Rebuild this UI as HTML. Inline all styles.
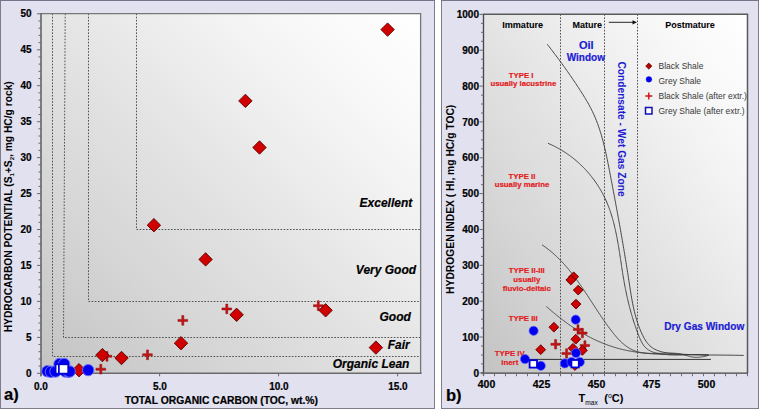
<!DOCTYPE html><html><head><meta charset="utf-8"><style>
html,body{margin:0;padding:0;background:#fff;width:759px;height:409px;overflow:hidden}
svg{display:block}
text{font-family:"Liberation Sans", sans-serif}
</style></head><body>
<svg width="759" height="409" viewBox="0 0 759 409">
<defs>
<linearGradient id="gL" x1="0" y1="1" x2="1" y2="0">
<stop offset="0" stop-color="#c3c3c3"/><stop offset="0.25" stop-color="#d5d5d5"/><stop offset="0.5" stop-color="#e4e4e4"/><stop offset="0.65" stop-color="#eeeeee"/><stop offset="0.8" stop-color="#f7f7f7"/><stop offset="1" stop-color="#ffffff"/></linearGradient>
<linearGradient id="gR" x1="0" y1="1" x2="1" y2="0">
<stop offset="0" stop-color="#c3c3c3"/><stop offset="0.25" stop-color="#d5d5d5"/><stop offset="0.5" stop-color="#e4e4e4"/><stop offset="0.65" stop-color="#eeeeee"/><stop offset="0.8" stop-color="#f7f7f7"/><stop offset="1" stop-color="#ffffff"/></linearGradient>
</defs>

<rect x="0" y="0" width="435" height="409" fill="#e1e1ef"/>
<rect x="441" y="0" width="318" height="409" fill="#e1e1ef"/>
<rect x="0.5" y="0.5" width="434" height="408" fill="none" stroke="#7c7c8a" stroke-width="1"/>
<line x1="0" y1="0.5" x2="435" y2="0.5" stroke="#74748a" stroke-width="1"/>
<rect x="441.5" y="0.5" width="317" height="408" fill="none" stroke="#7c7c8a" stroke-width="1"/>
<line x1="441" y1="0.5" x2="759" y2="0.5" stroke="#74748a" stroke-width="1"/>
<rect x="41" y="13.6" width="379.6" height="359.7" fill="url(#gL)"/>
<path d="M52.5,13.6V356.5H420.6" stroke="#505050" stroke-width="1" stroke-dasharray="1.6,1.53" fill="none"/>
<path d="M65.2,13.6L63.5,337.5H420.6" stroke="#505050" stroke-width="1" stroke-dasharray="1.6,1.53" fill="none"/>
<path d="M88.5,13.6V301.5H420.6" stroke="#505050" stroke-width="1" stroke-dasharray="1.6,1.53" fill="none"/>
<path d="M136.5,13.6V229.5H420.6" stroke="#505050" stroke-width="1" stroke-dasharray="1.6,1.53" fill="none"/>
<path d="M41,13.6H420.6V373.3" stroke="#777" stroke-width="1.3" fill="none"/>
<line x1="41" y1="13.1" x2="41" y2="376.3" stroke="#6c6c6c" stroke-width="1.7"/>
<line x1="40" y1="373.3" x2="421.6" y2="373.3" stroke="#6a6a6a" stroke-width="1.6"/>
<path d="M37.0,373.3H41M38.5,366.1H41M38.5,358.9H41M38.5,351.7H41M38.5,344.5H41M37.0,337.4H41M38.5,330.2H41M38.5,323.0H41M38.5,315.8H41M38.5,308.6H41M37.0,301.4H41M38.5,294.2H41M38.5,287.0H41M38.5,279.8H41M38.5,272.6H41M37.0,265.4H41M38.5,258.3H41M38.5,251.1H41M38.5,243.9H41M38.5,236.7H41M37.0,229.5H41M38.5,222.3H41M38.5,215.1H41M38.5,207.9H41M38.5,200.7H41M37.0,193.6H41M38.5,186.4H41M38.5,179.2H41M38.5,172.0H41M38.5,164.8H41M37.0,157.6H41M38.5,150.4H41M38.5,143.2H41M38.5,136.0H41M38.5,128.8H41M37.0,121.7H41M38.5,114.5H41M38.5,107.3H41M38.5,100.1H41M38.5,92.9H41M37.0,85.7H41M38.5,78.5H41M38.5,71.3H41M38.5,64.1H41M38.5,56.9H41M37.0,49.8H41M38.5,42.6H41M38.5,35.4H41M38.5,28.2H41M38.5,21.0H41M37.0,13.8H41M40.6,373.3V376.3M159.6,373.3V376.3M278.6,373.3V376.3M397.6,373.3V376.3" stroke="#6a6a6a" stroke-width="1"/>
<text x="31.5" y="376.9" font-size="10" font-weight="bold" font-style="normal" text-anchor="end" fill="#000" stroke="#000" stroke-width="0.2" >0</text>
<text x="31.5" y="341.0" font-size="10" font-weight="bold" font-style="normal" text-anchor="end" fill="#000" stroke="#000" stroke-width="0.2" >5</text>
<text x="31.5" y="305.0" font-size="10" font-weight="bold" font-style="normal" text-anchor="end" fill="#000" stroke="#000" stroke-width="0.2" >10</text>
<text x="31.5" y="269.1" font-size="10" font-weight="bold" font-style="normal" text-anchor="end" fill="#000" stroke="#000" stroke-width="0.2" >15</text>
<text x="31.5" y="233.1" font-size="10" font-weight="bold" font-style="normal" text-anchor="end" fill="#000" stroke="#000" stroke-width="0.2" >20</text>
<text x="31.5" y="197.2" font-size="10" font-weight="bold" font-style="normal" text-anchor="end" fill="#000" stroke="#000" stroke-width="0.2" >25</text>
<text x="31.5" y="161.2" font-size="10" font-weight="bold" font-style="normal" text-anchor="end" fill="#000" stroke="#000" stroke-width="0.2" >30</text>
<text x="31.5" y="125.2" font-size="10" font-weight="bold" font-style="normal" text-anchor="end" fill="#000" stroke="#000" stroke-width="0.2" >35</text>
<text x="31.5" y="89.3" font-size="10" font-weight="bold" font-style="normal" text-anchor="end" fill="#000" stroke="#000" stroke-width="0.2" >40</text>
<text x="31.5" y="53.4" font-size="10" font-weight="bold" font-style="normal" text-anchor="end" fill="#000" stroke="#000" stroke-width="0.2" >45</text>
<text x="31.5" y="17.4" font-size="10" font-weight="bold" font-style="normal" text-anchor="end" fill="#000" stroke="#000" stroke-width="0.2" >50</text>
<text x="40.9" y="389.8" font-size="10" font-weight="bold" font-style="normal" text-anchor="middle" fill="#000" stroke="#000" stroke-width="0.2" >0.0</text>
<text x="159.9" y="389.8" font-size="10" font-weight="bold" font-style="normal" text-anchor="middle" fill="#000" stroke="#000" stroke-width="0.2" >5.0</text>
<text x="278.9" y="389.8" font-size="10" font-weight="bold" font-style="normal" text-anchor="middle" fill="#000" stroke="#000" stroke-width="0.2" >10.0</text>
<text x="397.9" y="389.8" font-size="10" font-weight="bold" font-style="normal" text-anchor="middle" fill="#000" stroke="#000" stroke-width="0.2" >15.0</text>
<text x="221.3" y="404.0" font-size="10.3" font-weight="bold" font-style="normal" text-anchor="middle" fill="#000" stroke="#000" stroke-width="0.2" >TOTAL ORGANIC CARBON (TOC, wt.%)</text>
<text transform="translate(12.3,206.8) rotate(-90)" x="0" y="0" font-size="10.25" font-weight="bold" text-anchor="middle">HYDROCARBON POTENTIAL (S<tspan font-size="6" dy="1.8">1</tspan><tspan dy="-1.8">+S</tspan><tspan font-size="6" dy="1.8">2</tspan><tspan dy="-1.8">, mg HC/g rock)</tspan></text>
<text x="4.0" y="400.4" font-size="16.5" font-weight="bold" font-style="normal" text-anchor="start" fill="#000" stroke="#000" stroke-width="0.2" >a)</text>
<text x="412.3" y="206.9" font-size="12" font-weight="bold" font-style="italic" text-anchor="end" fill="#000" stroke="#000" stroke-width="0.2" >Excellent</text>
<text x="416.1" y="274.0" font-size="12" font-weight="bold" font-style="italic" text-anchor="end" fill="#000" stroke="#000" stroke-width="0.2" >Very Good</text>
<text x="410.8" y="320.8" font-size="12" font-weight="bold" font-style="italic" text-anchor="end" fill="#000" stroke="#000" stroke-width="0.2" >Good</text>
<text x="409.7" y="349.0" font-size="12" font-weight="bold" font-style="italic" text-anchor="end" fill="#000" stroke="#000" stroke-width="0.2" >Fair</text>
<text x="409.4" y="367.7" font-size="12" font-weight="bold" font-style="italic" text-anchor="end" fill="#000" stroke="#000" stroke-width="0.2" >Organic Lean</text>
<path d="M225.80,304.05L227.80,304.05L227.80,307.90L231.65,307.90L231.65,309.90L227.80,309.90L227.80,313.75L225.80,313.75L225.80,309.90L221.95,309.90L221.95,307.90L225.80,307.90Z" fill="#c81212" stroke="#8a0808" stroke-width="0.5"/>
<path d="M317.30,300.85L319.30,300.85L319.30,304.70L323.15,304.70L323.15,306.70L319.30,306.70L319.30,310.55L317.30,310.55L317.30,306.70L313.45,306.70L313.45,304.70L317.30,304.70Z" fill="#c81212" stroke="#8a0808" stroke-width="0.5"/>
<path d="M181.80,315.55L183.80,315.55L183.80,319.40L187.65,319.40L187.65,321.40L183.80,321.40L183.80,325.25L181.80,325.25L181.80,321.40L177.95,321.40L177.95,319.40L181.80,319.40Z" fill="#c81212" stroke="#8a0808" stroke-width="0.5"/>
<path d="M146.50,349.95L148.50,349.95L148.50,353.80L152.35,353.80L152.35,355.80L148.50,355.80L148.50,359.65L146.50,359.65L146.50,355.80L142.65,355.80L142.65,353.80L146.50,353.80Z" fill="#c81212" stroke="#8a0808" stroke-width="0.5"/>
<path d="M106.00,351.45L108.00,351.45L108.00,355.30L111.85,355.30L111.85,357.30L108.00,357.30L108.00,361.15L106.00,361.15L106.00,357.30L102.15,357.30L102.15,355.30L106.00,355.30Z" fill="#c81212" stroke="#8a0808" stroke-width="0.5"/>
<path d="M99.80,364.35L101.80,364.35L101.80,368.20L105.65,368.20L105.65,370.20L101.80,370.20L101.80,374.05L99.80,374.05L99.80,370.20L95.95,370.20L95.95,368.20L99.80,368.20Z" fill="#c81212" stroke="#8a0808" stroke-width="0.5"/>
<path d="M387.6,22.9L394.3,29.6L387.6,36.3L380.9,29.6Z" fill="#d00000" stroke="#5a0000" stroke-width="0.9"/>
<path d="M245.4,94.2L252.1,100.9L245.4,107.6L238.7,100.9Z" fill="#d00000" stroke="#5a0000" stroke-width="0.9"/>
<path d="M259.5,140.8L266.2,147.5L259.5,154.2L252.8,147.5Z" fill="#d00000" stroke="#5a0000" stroke-width="0.9"/>
<path d="M153.9,218.5L160.6,225.2L153.9,231.9L147.2,225.2Z" fill="#d00000" stroke="#5a0000" stroke-width="0.9"/>
<path d="M205.6,252.7L212.3,259.4L205.6,266.1L198.9,259.4Z" fill="#d00000" stroke="#5a0000" stroke-width="0.9"/>
<path d="M236.6,308.1L243.3,314.8L236.6,321.5L229.9,314.8Z" fill="#d00000" stroke="#5a0000" stroke-width="0.9"/>
<path d="M325.6,303.6L332.3,310.3L325.6,317.0L318.9,310.3Z" fill="#d00000" stroke="#5a0000" stroke-width="0.9"/>
<path d="M181.0,336.5L187.7,343.2L181.0,349.9L174.3,343.2Z" fill="#d00000" stroke="#5a0000" stroke-width="0.9"/>
<path d="M375.9,340.9L382.6,347.6L375.9,354.3L369.2,347.6Z" fill="#d00000" stroke="#5a0000" stroke-width="0.9"/>
<path d="M102.4,348.4L109.1,355.1L102.4,361.8L95.7,355.1Z" fill="#d00000" stroke="#5a0000" stroke-width="0.9"/>
<path d="M121.5,351.3L128.2,358.0L121.5,364.7L114.8,358.0Z" fill="#d00000" stroke="#5a0000" stroke-width="0.9"/>
<path d="M79.0,363.5L85.7,370.2L79.0,376.9L72.3,370.2Z" fill="#d00000" stroke="#5a0000" stroke-width="0.9"/>
<circle cx="47.4" cy="371.2" r="5.7" fill="#0000ee" stroke="#6a6aff" stroke-width="1"/>
<circle cx="50.9" cy="371.8" r="5.7" fill="#0000ee" stroke="#6a6aff" stroke-width="1"/>
<circle cx="55.5" cy="371.5" r="5.7" fill="#0000ee" stroke="#6a6aff" stroke-width="1"/>
<circle cx="59.5" cy="364.0" r="5.7" fill="#0000ee" stroke="#6a6aff" stroke-width="1"/>
<circle cx="64.2" cy="364.0" r="5.7" fill="#0000ee" stroke="#6a6aff" stroke-width="1"/>
<circle cx="65.5" cy="371.5" r="5.7" fill="#0000ee" stroke="#6a6aff" stroke-width="1"/>
<circle cx="68.2" cy="371.6" r="5.7" fill="#0000ee" stroke="#6a6aff" stroke-width="1"/>
<circle cx="69.6" cy="371.5" r="5.7" fill="#0000ee" stroke="#6a6aff" stroke-width="1"/>
<circle cx="88.2" cy="370.1" r="5.7" fill="#0000ee" stroke="#6a6aff" stroke-width="1"/>
<rect x="55.6" y="364.3" width="9.3" height="9.3" fill="#fff" stroke="#0000dd" stroke-width="1.7"/>
<rect x="58.9" y="364.3" width="9.3" height="9.3" fill="#fff" stroke="#0000dd" stroke-width="1.7"/>
<rect x="483.5" y="14.2" width="264.0" height="359.0" fill="url(#gR)"/>
<path d="M560.5,14.2V373.2" stroke="#505050" stroke-width="1" stroke-dasharray="1.6,1.53" fill="none"/>
<path d="M604.5,14.2V373.2" stroke="#505050" stroke-width="1" stroke-dasharray="1.6,1.53" fill="none"/>
<path d="M637.5,14.2V373.2" stroke="#505050" stroke-width="1" stroke-dasharray="1.6,1.53" fill="none"/>
<path d="M483.5,14.2H747.5V373.2" stroke="#5a5a5a" stroke-width="1.5" fill="none"/>
<line x1="483.5" y1="13.7" x2="483.5" y2="375.7" stroke="#454545" stroke-width="1.3"/>
<line x1="481.0" y1="373.2" x2="748.0" y2="373.2" stroke="#454545" stroke-width="1.3"/>
<path d="M479.5,372.9H483.5M481.0,363.9H483.5M481.0,355.0H483.5M481.0,346.0H483.5M479.5,337.0H483.5M481.0,328.1H483.5M481.0,319.1H483.5M481.0,310.2H483.5M479.5,301.2H483.5M481.0,292.2H483.5M481.0,283.3H483.5M481.0,274.3H483.5M479.5,265.3H483.5M481.0,256.4H483.5M481.0,247.4H483.5M481.0,238.5H483.5M479.5,229.5H483.5M481.0,220.5H483.5M481.0,211.6H483.5M481.0,202.6H483.5M479.5,193.6H483.5M481.0,184.7H483.5M481.0,175.7H483.5M481.0,166.8H483.5M479.5,157.8H483.5M481.0,148.8H483.5M481.0,139.9H483.5M481.0,130.9H483.5M479.5,121.9H483.5M481.0,113.0H483.5M481.0,104.0H483.5M481.0,95.1H483.5M479.5,86.1H483.5M481.0,77.1H483.5M481.0,68.2H483.5M481.0,59.2H483.5M479.5,50.2H483.5M481.0,41.3H483.5M481.0,32.3H483.5M481.0,23.4H483.5M479.5,14.4H483.5M483.5,373.2V376.2M494.5,373.2V376.2M505.5,373.2V376.2M516.5,373.2V376.2M527.5,373.2V376.2M538.5,373.2V376.2M549.5,373.2V376.2M560.5,373.2V376.2M571.5,373.2V376.2M582.5,373.2V376.2M593.5,373.2V376.2M604.5,373.2V376.2M615.5,373.2V376.2M626.5,373.2V376.2M637.5,373.2V376.2M648.5,373.2V376.2M659.5,373.2V376.2M670.5,373.2V376.2M681.5,373.2V376.2M692.5,373.2V376.2M703.5,373.2V376.2M714.5,373.2V376.2M725.5,373.2V376.2M736.5,373.2V376.2M747.5,373.2V376.2" stroke="#6a6a6a" stroke-width="1"/>
<text x="479.0" y="376.5" font-size="10" font-weight="bold" font-style="normal" text-anchor="end" fill="#000" stroke="#000" stroke-width="0.2" >0</text>
<text x="479.0" y="340.6" font-size="10" font-weight="bold" font-style="normal" text-anchor="end" fill="#000" stroke="#000" stroke-width="0.2" >100</text>
<text x="479.0" y="304.8" font-size="10" font-weight="bold" font-style="normal" text-anchor="end" fill="#000" stroke="#000" stroke-width="0.2" >200</text>
<text x="479.0" y="268.9" font-size="10" font-weight="bold" font-style="normal" text-anchor="end" fill="#000" stroke="#000" stroke-width="0.2" >300</text>
<text x="479.0" y="233.1" font-size="10" font-weight="bold" font-style="normal" text-anchor="end" fill="#000" stroke="#000" stroke-width="0.2" >400</text>
<text x="479.0" y="197.2" font-size="10" font-weight="bold" font-style="normal" text-anchor="end" fill="#000" stroke="#000" stroke-width="0.2" >500</text>
<text x="479.0" y="161.4" font-size="10" font-weight="bold" font-style="normal" text-anchor="end" fill="#000" stroke="#000" stroke-width="0.2" >600</text>
<text x="479.0" y="125.5" font-size="10" font-weight="bold" font-style="normal" text-anchor="end" fill="#000" stroke="#000" stroke-width="0.2" >700</text>
<text x="479.0" y="89.7" font-size="10" font-weight="bold" font-style="normal" text-anchor="end" fill="#000" stroke="#000" stroke-width="0.2" >800</text>
<text x="479.0" y="53.9" font-size="10" font-weight="bold" font-style="normal" text-anchor="end" fill="#000" stroke="#000" stroke-width="0.2" >900</text>
<text x="479.0" y="18.0" font-size="10" font-weight="bold" font-style="normal" text-anchor="end" fill="#000" stroke="#000" stroke-width="0.2" >1000</text>
<text x="486.5" y="387.5" font-size="10.5" font-weight="bold" font-style="normal" text-anchor="middle" fill="#000" stroke="#000" stroke-width="0.2" >400</text>
<text x="541.5" y="387.5" font-size="10.5" font-weight="bold" font-style="normal" text-anchor="middle" fill="#000" stroke="#000" stroke-width="0.2" >425</text>
<text x="596.5" y="387.5" font-size="10.5" font-weight="bold" font-style="normal" text-anchor="middle" fill="#000" stroke="#000" stroke-width="0.2" >450</text>
<text x="651.5" y="387.5" font-size="10.5" font-weight="bold" font-style="normal" text-anchor="middle" fill="#000" stroke="#000" stroke-width="0.2" >475</text>
<text x="706.5" y="387.5" font-size="10.5" font-weight="bold" font-style="normal" text-anchor="middle" fill="#000" stroke="#000" stroke-width="0.2" >500</text>
<text transform="translate(453.7,199.3) rotate(-90)" x="0" y="0" font-size="10.3" font-weight="bold" text-anchor="middle">HYDROGEN INDEX ( HI, mg HC/g TOC)</text>
<text x="446.0" y="400.5" font-size="16.5" font-weight="bold" font-style="normal" text-anchor="start" fill="#000" stroke="#000" stroke-width="0.2" >b)</text>
<text x="578.5" y="402.1" font-size="11" font-weight="bold">T<tspan font-size="6.6" font-weight="normal" dy="2.6">max</tspan><tspan dy="-2.6" dx="6.5">(</tspan><tspan font-size="7" dy="-4" font-weight="normal">o</tspan><tspan dy="4">C)</tspan></text>
<text x="522.6" y="27.7" font-size="9.1" font-weight="bold" font-style="normal" text-anchor="middle" fill="#000" stroke="#000" stroke-width="0.05" >Immature</text>
<text x="587.2" y="27.7" font-size="9" font-weight="bold" font-style="normal" text-anchor="middle" fill="#000" stroke="#000" stroke-width="0.05" >Mature</text>
<text x="690.0" y="28.0" font-size="9" font-weight="bold" font-style="normal" text-anchor="middle" fill="#000" stroke="#000" stroke-width="0.05" >Postmature</text>
<line x1="608.8" y1="22.3" x2="633" y2="22.3" stroke="#111" stroke-width="0.9"/>
<path d="M637,22.3L632.5,20.2V24.4Z" fill="#111"/>
<text x="586.3" y="48.7" font-size="11" font-weight="bold" font-style="normal" text-anchor="middle" fill="#1c1cd4" stroke="#1c1cd4" stroke-width="0.2" >Oil</text>
<text x="585.8" y="60.6" font-size="10" font-weight="bold" font-style="normal" text-anchor="middle" fill="#1c1cd4" stroke="#1c1cd4" stroke-width="0.2" >Window</text>
<text transform="translate(618,129) rotate(90)" x="0" y="0" font-size="10.2" font-weight="bold" text-anchor="middle" fill="#1c1cd4">Condensate - Wet Gas Zone</text>
<text x="704.2" y="329.8" font-size="10.1" font-weight="bold" font-style="normal" text-anchor="middle" fill="#1c1cd4" stroke="#1c1cd4" stroke-width="0.2" >Dry Gas Window</text>
<text x="521.2" y="78.0" font-size="7.8" font-weight="bold" font-style="normal" text-anchor="middle" fill="#e21c22" stroke="#e21c22" stroke-width="0.2" >TYPE I</text>
<text x="523.4" y="86.0" font-size="7.8" font-weight="bold" font-style="normal" text-anchor="middle" fill="#e21c22" stroke="#e21c22" stroke-width="0.2" >usually lacustrine</text>
<text x="522.0" y="179.0" font-size="7.8" font-weight="bold" font-style="normal" text-anchor="middle" fill="#e21c22" stroke="#e21c22" stroke-width="0.2" >TYPE II</text>
<text x="522.0" y="187.2" font-size="7.8" font-weight="bold" font-style="normal" text-anchor="middle" fill="#e21c22" stroke="#e21c22" stroke-width="0.2" >usually marine</text>
<text x="526.8" y="273.4" font-size="7.8" font-weight="bold" font-style="normal" text-anchor="middle" fill="#e21c22" stroke="#e21c22" stroke-width="0.2" >TYPE II-III</text>
<text x="526.8" y="282.3" font-size="7.8" font-weight="bold" font-style="normal" text-anchor="middle" fill="#e21c22" stroke="#e21c22" stroke-width="0.2" >usually</text>
<text x="526.8" y="291.1" font-size="7.8" font-weight="bold" font-style="normal" text-anchor="middle" fill="#e21c22" stroke="#e21c22" stroke-width="0.2" >fluvio-deltaic</text>
<text x="523.2" y="320.8" font-size="7.8" font-weight="bold" font-style="normal" text-anchor="middle" fill="#e21c22" stroke="#e21c22" stroke-width="0.2" >TYPE III</text>
<text x="509.8" y="356.0" font-size="7.8" font-weight="bold" font-style="normal" text-anchor="middle" fill="#e21c22" stroke="#e21c22" stroke-width="0.2" >TYPE IV</text>
<text x="509.8" y="365.0" font-size="7.8" font-weight="bold" font-style="normal" text-anchor="middle" fill="#e21c22" stroke="#e21c22" stroke-width="0.2" >inert</text>
<path d="M547.30,44.30 L548.30,45.59 L549.30,46.87 L550.29,48.16 L551.29,49.45 L552.27,50.74 L553.26,52.02 L554.24,53.32 L555.21,54.61 L556.19,55.90 L557.15,57.20 L558.12,58.50 L559.08,59.80 L560.04,61.10 L560.99,62.40 L561.94,63.71 L562.89,65.02 L563.84,66.33 L564.78,67.64 L565.71,68.96 L566.65,70.28 L567.58,71.60 L568.50,72.92 L569.43,74.25 L570.35,75.58 L571.26,76.91 L572.18,78.25 L573.09,79.58 L573.99,80.93 L574.90,82.27 L575.80,83.62 L576.70,84.97 L577.59,86.33 L578.48,87.69 L579.37,89.05 L580.26,90.42 L581.14,91.79 L582.02,93.17 L582.89,94.55 L583.75,95.94 L584.60,97.33 L585.45,98.73 L586.28,100.13 L587.11,101.54 L587.92,102.95 L588.72,104.37 L589.50,105.80 L590.27,107.23 L591.02,108.68 L591.76,110.13 L592.47,111.58 L593.17,113.05 L593.84,114.52 L594.50,116.00 L595.14,117.49 L595.76,118.98 L596.36,120.48 L596.95,121.99 L597.52,123.51 L598.08,125.03 L598.61,126.55 L599.14,128.09 L599.65,129.62 L600.14,131.17 L600.63,132.71 L601.10,134.27 L601.55,135.82 L602.00,137.38 L602.43,138.95 L602.86,140.52 L603.27,142.09 L603.67,143.67 L604.06,145.25 L604.45,146.83 L604.82,148.41 L605.19,150.00 L605.55,151.59 L605.90,153.18 L606.25,154.77 L606.59,156.36 L606.93,157.96 L607.26,159.55 L607.58,161.15 L607.90,162.75 L608.22,164.34 L608.54,165.94 L608.85,167.54 L609.16,169.13 L609.47,170.73 L609.78,172.32 L610.08,173.92 L610.39,175.51 L610.70,177.10 L611.00,178.69 L611.31,180.28 L611.61,181.87 L611.91,183.45 L612.22,185.04 L612.52,186.63 L612.82,188.21 L613.12,189.80 L613.42,191.38 L613.72,192.96 L614.02,194.55 L614.32,196.13 L614.61,197.71 L614.91,199.29 L615.20,200.87 L615.50,202.46 L615.79,204.04 L616.09,205.62 L616.38,207.20 L616.67,208.78 L616.96,210.36 L617.25,211.94 L617.54,213.52 L617.83,215.10 L618.12,216.68 L618.41,218.26 L618.69,219.85 L618.98,221.43 L619.26,223.01 L619.55,224.59 L619.83,226.18 L620.11,227.76 L620.39,229.35 L620.67,230.93 L620.95,232.52 L621.23,234.10 L621.51,235.69 L621.78,237.28 L622.06,238.87 L622.33,240.46 L622.61,242.05 L622.88,243.64 L623.15,245.24 L623.42,246.83 L623.69,248.43 L623.96,250.02 L624.23,251.62 L624.50,253.22 L624.76,254.82 L625.03,256.42 L625.29,258.03 L625.56,259.63 L625.82,261.24 L626.08,262.85 L626.34,264.46 L626.60,266.07 L626.86,267.69 L627.12,269.30 L627.37,270.92 L627.63,272.54 L627.88,274.16 L628.13,275.79 L628.39,277.41 L628.64,279.04 L628.89,280.67 L629.13,282.30 L629.38,283.94 L629.63,285.57 L629.88,287.21 L630.14,288.85 L630.40,290.48 L630.66,292.12 L630.92,293.75 L631.19,295.38 L631.47,297.01 L631.76,298.64 L632.05,300.27 L632.35,301.89 L632.67,303.50 L632.99,305.12 L633.32,306.73 L633.67,308.33 L634.03,309.92 L634.40,311.52 L634.79,313.10 L635.19,314.68 L635.61,316.25 L636.04,317.81 L636.50,319.36 L636.97,320.90 L637.46,322.44 L637.97,323.96 L638.50,325.47 L639.06,326.98 L639.63,328.47 L640.23,329.95 L640.85,331.42 L641.50,332.87 L642.18,334.31 L642.88,335.74 L643.61,337.15 L644.37,338.54 L645.17,339.89 L646.02,341.20 L646.91,342.45 L647.85,343.65 L648.86,344.79 L649.92,345.84 L651.05,346.82 L652.24,347.71 L653.50,348.52 L654.81,349.26 L656.18,349.92 L657.60,350.52 L659.07,351.05 L660.57,351.53 L662.11,351.95 L663.69,352.32 L665.30,352.64 L666.93,352.92 L668.58,353.16 L670.26,353.37 L671.94,353.55 L673.64,353.70 L675.34,353.83 L677.04,353.95 L678.74,354.05 L680.43,354.14 L682.11,354.22 L683.79,354.30 L685.46,354.37 L687.11,354.44 L688.77,354.51 L690.41,354.56 L692.05,354.62 L693.68,354.67 L695.31,354.71 L696.93,354.76 L698.55,354.79 L700.16,354.83 L701.77,354.86 L703.37,354.89 L704.97,354.92 L706.57,354.94 L708.17,354.96 L709.77,354.98 L711.36,355.00 L712.96,355.02 L714.55,355.03 L716.14,355.05 L717.74,355.06 L719.33,355.08 L720.93,355.09 L722.53,355.11 L724.13,355.12 L725.73,355.14 L727.34,355.16 L728.95,355.17 L730.56,355.19 L732.18,355.21 L733.81,355.24 L735.44,355.26 L737.07,355.29 L738.71,355.32 L740.36,355.35 L742.02,355.39 L743.68,355.43" stroke="#3c3c3c" stroke-width="0.95" fill="none"/>
<path d="M548.04,143.35 L549.14,143.81 L550.23,144.29 L551.31,144.78 L552.38,145.28 L553.45,145.79 L554.51,146.32 L555.57,146.85 L556.62,147.40 L557.66,147.96 L558.69,148.53 L559.72,149.11 L560.74,149.70 L561.75,150.30 L562.75,150.91 L563.75,151.53 L564.74,152.17 L565.72,152.81 L566.69,153.46 L567.66,154.13 L568.61,154.80 L569.56,155.48 L570.51,156.18 L571.44,156.88 L572.37,157.59 L573.28,158.31 L574.19,159.05 L575.10,159.79 L575.99,160.54 L576.87,161.30 L577.75,162.06 L578.62,162.84 L579.48,163.63 L580.33,164.42 L581.17,165.22 L582.01,166.03 L582.83,166.85 L583.65,167.68 L584.46,168.51 L585.25,169.36 L586.04,170.21 L586.82,171.07 L587.60,171.94 L588.36,172.81 L589.11,173.69 L589.85,174.58 L590.59,175.48 L591.31,176.38 L592.03,177.29 L592.74,178.21 L593.43,179.13 L594.12,180.06 L594.80,181.00 L595.46,181.95 L596.12,182.90 L596.77,183.85 L597.41,184.82 L598.04,185.79 L598.65,186.76 L599.26,187.74 L599.86,188.73 L600.45,189.72 L601.03,190.72 L601.59,191.72 L602.15,192.73 L602.69,193.74 L603.23,194.76 L603.76,195.79 L604.27,196.82 L604.77,197.85 L605.27,198.89 L605.75,199.93 L606.22,200.98 L606.68,202.03 L607.13,203.09 L607.57,204.15 L608.00,205.21 L608.42,206.28 L608.83,207.36 L609.23,208.43 L609.62,209.51 L610.00,210.60 L610.38,211.69 L610.74,212.78 L611.10,213.87 L611.44,214.97 L611.78,216.07 L612.11,217.18 L612.44,218.28 L612.75,219.40 L613.06,220.51 L613.36,221.63 L613.66,222.75 L613.95,223.87 L614.23,224.99 L614.50,226.12 L614.77,227.25 L615.03,228.38 L615.29,229.52 L615.54,230.66 L615.79,231.80 L616.03,232.94 L616.26,234.08 L616.49,235.22 L616.72,236.37 L616.94,237.52 L617.16,238.67 L617.37,239.82 L617.58,240.97 L617.79,242.13 L617.99,243.28 L618.19,244.44 L618.39,245.60 L618.58,246.76 L618.77,247.92 L618.96,249.08 L619.15,250.24 L619.33,251.40 L619.51,252.56 L619.70,253.73 L619.88,254.89 L620.05,256.06 L620.23,257.22 L620.41,258.38 L620.58,259.55 L620.76,260.71 L620.93,261.88 L621.11,263.04 L621.29,264.21 L621.46,265.37 L621.64,266.53 L621.81,267.70 L621.99,268.86 L622.17,270.02 L622.35,271.18 L622.53,272.34 L622.72,273.50 L622.90,274.66 L623.09,275.81 L623.28,276.97 L623.48,278.13 L623.67,279.28 L623.87,280.43 L624.07,281.58 L624.28,282.73 L624.48,283.88 L624.70,285.02 L624.91,286.17 L625.13,287.31 L625.35,288.45 L625.58,289.59 L625.80,290.73 L626.04,291.87 L626.27,293.00 L626.51,294.14 L626.76,295.27 L627.00,296.40 L627.26,297.54 L627.51,298.67 L627.77,299.79 L628.04,300.92 L628.30,302.05 L628.58,303.17 L628.85,304.30 L629.13,305.42 L629.42,306.54 L629.71,307.66 L630.01,308.78 L630.31,309.90 L630.61,311.02 L630.92,312.13 L631.23,313.25 L631.55,314.36 L631.88,315.48 L632.20,316.59 L632.54,317.70 L632.88,318.81 L633.22,319.92 L633.57,321.03 L633.93,322.14 L634.29,323.25 L634.65,324.36 L635.03,325.46 L635.40,326.57 L635.79,327.67 L636.17,328.77 L636.57,329.88 L636.97,330.98 L637.37,332.08 L637.79,333.18 L638.20,334.28 L638.63,335.38 L639.06,336.48 L639.50,337.57 L639.96,338.65 L640.43,339.71 L640.93,340.76 L641.44,341.78 L641.99,342.78 L642.56,343.75 L643.16,344.68 L643.80,345.58 L644.48,346.43 L645.21,347.24 L645.97,348.00 L646.78,348.70 L647.64,349.36 L648.54,349.96 L649.48,350.52 L650.46,351.03 L651.47,351.50 L652.51,351.92 L653.58,352.31 L654.67,352.66 L655.79,352.98 L656.93,353.26 L658.09,353.51 L659.26,353.74 L660.45,353.93 L661.65,354.11 L662.85,354.26 L664.05,354.39 L665.26,354.50 L666.47,354.59 L667.67,354.67 L668.88,354.74 L670.08,354.79 L671.28,354.83 L672.48,354.86 L673.67,354.88 L674.87,354.89 L676.06,354.89 L677.25,354.88 L678.43,354.87 L679.62,354.85 L680.80,354.82 L681.98,354.80 L683.16,354.77 L684.34,354.73 L685.51,354.70 L686.69,354.67 L687.86,354.63 L689.03,354.60 L690.19,354.57 L691.36,354.55 L692.52,354.53 L693.68,354.51 L694.84,354.50 L695.99,354.50 L697.15,354.51 L698.30,354.53 L699.44,354.55 L700.59,354.59 L701.74,354.64 L702.88,354.71 L704.02,354.78 L705.15,354.87 L706.29,354.98 L707.42,355.10 L708.55,355.25" stroke="#3c3c3c" stroke-width="0.95" fill="none"/>
<path d="M541.99,244.81 L542.71,245.29 L543.42,245.78 L544.13,246.27 L544.83,246.77 L545.52,247.27 L546.21,247.78 L546.89,248.29 L547.57,248.81 L548.24,249.33 L548.91,249.85 L549.58,250.38 L550.23,250.91 L550.89,251.45 L551.53,251.99 L552.18,252.53 L552.82,253.08 L553.45,253.64 L554.08,254.19 L554.70,254.75 L555.32,255.32 L555.94,255.89 L556.55,256.46 L557.16,257.03 L557.76,257.61 L558.36,258.19 L558.95,258.78 L559.54,259.37 L560.13,259.96 L560.71,260.56 L561.29,261.16 L561.86,261.76 L562.43,262.37 L563.00,262.98 L563.56,263.59 L564.12,264.20 L564.68,264.82 L565.23,265.44 L565.78,266.07 L566.33,266.69 L566.87,267.32 L567.41,267.96 L567.95,268.59 L568.48,269.23 L569.01,269.87 L569.54,270.51 L570.06,271.16 L570.58,271.80 L571.10,272.45 L571.61,273.11 L572.13,273.76 L572.64,274.42 L573.15,275.08 L573.65,275.74 L574.15,276.40 L574.66,277.07 L575.15,277.73 L575.65,278.40 L576.14,279.07 L576.64,279.75 L577.13,280.42 L577.61,281.10 L578.10,281.77 L578.58,282.45 L579.07,283.13 L579.55,283.82 L580.03,284.50 L580.50,285.19 L580.98,285.87 L581.45,286.56 L581.93,287.25 L582.40,287.94 L582.87,288.63 L583.34,289.32 L583.80,290.02 L584.27,290.71 L584.74,291.41 L585.20,292.10 L585.66,292.80 L586.13,293.50 L586.59,294.20 L587.05,294.90 L587.51,295.60 L587.97,296.30 L588.43,297.00 L588.89,297.70 L589.35,298.41 L589.81,299.11 L590.26,299.81 L590.72,300.52 L591.18,301.22 L591.64,301.92 L592.09,302.63 L592.55,303.33 L593.01,304.03 L593.47,304.74 L593.92,305.44 L594.38,306.15 L594.84,306.85 L595.30,307.55 L595.76,308.26 L596.22,308.96 L596.68,309.66 L597.14,310.36 L597.60,311.07 L598.06,311.77 L598.52,312.47 L598.99,313.17 L599.45,313.87 L599.92,314.57 L600.39,315.26 L600.85,315.96 L601.32,316.66 L601.79,317.35 L602.26,318.04 L602.74,318.74 L603.21,319.43 L603.69,320.12 L604.17,320.81 L604.65,321.50 L605.13,322.19 L605.61,322.87 L606.09,323.56 L606.58,324.24 L607.07,324.92 L607.56,325.60 L608.05,326.28 L608.55,326.96 L609.04,327.63 L609.54,328.30 L610.04,328.97 L610.55,329.64 L611.05,330.31 L611.56,330.98 L612.07,331.64 L612.59,332.30 L613.10,332.96 L613.62,333.61 L614.15,334.26 L614.68,334.90 L615.21,335.54 L615.75,336.18 L616.29,336.81 L616.83,337.43 L617.38,338.05 L617.93,338.66 L618.49,339.26 L619.06,339.85 L619.63,340.44 L620.21,341.02 L620.79,341.59 L621.38,342.15 L621.97,342.70 L622.57,343.24 L623.18,343.77 L623.80,344.29 L624.42,344.80 L625.05,345.29 L625.68,345.78 L626.33,346.25 L626.98,346.71 L627.64,347.16 L628.31,347.59 L628.98,348.01 L629.67,348.42 L630.36,348.81 L631.07,349.18 L631.78,349.54 L632.50,349.89 L633.23,350.22 L633.97,350.53 L634.72,350.82 L635.49,351.10 L636.26,351.36 L637.04,351.60 L637.83,351.82 L638.64,352.03 L639.45,352.22 L640.27,352.39 L641.10,352.55 L641.94,352.69 L642.79,352.81 L643.64,352.93 L644.50,353.03 L645.37,353.11 L646.24,353.19 L647.12,353.25 L648.01,353.31 L648.89,353.35 L649.79,353.38 L650.68,353.41 L651.58,353.43 L652.48,353.44 L653.38,353.44 L654.29,353.44 L655.19,353.43 L656.10,353.42 L657.00,353.40 L657.91,353.38 L658.81,353.36 L659.71,353.34 L660.62,353.31 L661.51,353.28 L662.41,353.26 L663.30,353.23 L664.19,353.20 L665.08,353.18 L665.96,353.16 L666.83,353.14 L667.70,353.13 L668.56,353.12 L669.42,353.11 L670.27,353.11 L671.11,353.12 L671.94,353.13 L672.77,353.16 L673.58,353.19 L674.39,353.22 L675.18,353.27 L675.97,353.33 L676.74,353.40 L677.51,353.48 L678.26,353.58 L678.99,353.68 L679.72,353.80 L680.43,353.94 L681.13,354.08 L681.82,354.24 L682.50,354.41 L683.17,354.59 L683.83,354.78 L684.49,354.97 L685.14,355.17 L685.80,355.37 L686.46,355.56 L687.12,355.76 L687.78,355.95 L688.45,356.14 L689.13,356.32 L689.82,356.49 L690.52,356.65 L691.24,356.79 L691.97,356.93 L692.72,357.04 L693.49,357.14 L694.28,357.22 L695.09,357.28 L695.92,357.31 L696.79,357.32 L697.68,357.30 L698.60,357.26 L699.55,357.18 L700.54,357.07 L701.56,356.93 L702.62,356.75 L703.72,356.53 L704.86,356.28 L706.04,355.98 L707.27,355.64 L708.54,355.26" stroke="#3c3c3c" stroke-width="0.95" fill="none"/>
<path d="M546.40,306.47 L546.92,306.93 L547.43,307.39 L547.94,307.85 L548.46,308.30 L548.98,308.76 L549.50,309.21 L550.02,309.67 L550.54,310.12 L551.06,310.57 L551.58,311.02 L552.10,311.46 L552.63,311.91 L553.15,312.35 L553.68,312.79 L554.21,313.23 L554.74,313.67 L555.27,314.11 L555.80,314.54 L556.33,314.98 L556.86,315.41 L557.40,315.84 L557.93,316.27 L558.47,316.69 L559.01,317.12 L559.55,317.54 L560.09,317.96 L560.63,318.38 L561.17,318.80 L561.71,319.22 L562.25,319.63 L562.80,320.04 L563.35,320.46 L563.89,320.86 L564.44,321.27 L564.99,321.68 L565.54,322.08 L566.09,322.48 L566.65,322.88 L567.20,323.28 L567.75,323.67 L568.31,324.07 L568.87,324.46 L569.42,324.85 L569.98,325.23 L570.54,325.62 L571.10,326.00 L571.67,326.38 L572.23,326.76 L572.79,327.14 L573.36,327.52 L573.93,327.89 L574.49,328.26 L575.06,328.63 L575.63,328.99 L576.20,329.36 L576.77,329.72 L577.35,330.08 L577.92,330.44 L578.49,330.79 L579.07,331.14 L579.65,331.49 L580.22,331.84 L580.80,332.19 L581.38,332.53 L581.96,332.87 L582.55,333.21 L583.13,333.55 L583.71,333.88 L584.30,334.22 L584.88,334.55 L585.47,334.87 L586.06,335.20 L586.65,335.52 L587.24,335.84 L587.83,336.16 L588.42,336.47 L589.02,336.78 L589.61,337.09 L590.21,337.40 L590.80,337.70 L591.40,338.01 L592.00,338.31 L592.60,338.60 L593.20,338.90 L593.80,339.19 L594.40,339.48 L595.01,339.76 L595.61,340.05 L596.22,340.33 L596.83,340.61 L597.43,340.88 L598.04,341.15 L598.65,341.42 L599.26,341.69 L599.88,341.96 L600.49,342.22 L601.10,342.48 L601.72,342.73 L602.33,342.99 L602.95,343.24 L603.57,343.48 L604.19,343.73 L604.81,343.97 L605.43,344.21 L606.05,344.44 L606.67,344.68 L607.30,344.91 L607.92,345.13 L608.55,345.36 L609.18,345.58 L609.80,345.80 L610.43,346.01 L611.06,346.22 L611.69,346.43 L612.33,346.64 L612.96,346.84 L613.59,347.04 L614.23,347.24 L614.86,347.43 L615.50,347.62 L616.14,347.81 L616.78,347.99 L617.42,348.17 L618.06,348.35 L618.70,348.52 L619.35,348.69 L619.99,348.86 L620.63,349.03 L621.28,349.19 L621.93,349.35 L622.57,349.50 L623.22,349.66 L623.87,349.80 L624.52,349.95 L625.18,350.09 L625.83,350.23 L626.48,350.37 L627.13,350.51 L627.79,350.64 L628.44,350.77 L629.10,350.89 L629.76,351.02 L630.42,351.14 L631.07,351.26 L631.73,351.37 L632.39,351.49 L633.06,351.60 L633.72,351.71 L634.38,351.81 L635.04,351.91 L635.71,352.01 L636.37,352.11 L637.03,352.21 L637.70,352.30 L638.37,352.39 L639.03,352.48 L639.70,352.57 L640.37,352.65 L641.04,352.73 L641.71,352.81 L642.38,352.89 L643.05,352.97 L643.72,353.04 L644.39,353.11 L645.06,353.18 L645.73,353.25 L646.40,353.31 L647.08,353.38 L647.75,353.44 L648.43,353.50 L649.10,353.55 L649.77,353.61 L650.45,353.66 L651.13,353.72 L651.80,353.77 L652.48,353.82 L653.15,353.86 L653.83,353.91 L654.51,353.95 L655.19,354.00 L655.86,354.04 L656.54,354.08 L657.22,354.11 L657.90,354.15 L658.58,354.19 L659.26,354.22 L659.94,354.25 L660.62,354.28 L661.30,354.31 L661.98,354.34 L662.66,354.37 L663.34,354.39 L664.02,354.42 L664.70,354.44 L665.38,354.46 L666.06,354.49 L666.74,354.51 L667.42,354.53 L668.10,354.54 L668.78,354.56 L669.46,354.58 L670.14,354.59 L670.83,354.61 L671.51,354.62 L672.19,354.63 L672.87,354.65 L673.55,354.66 L674.23,354.67 L674.91,354.68 L675.59,354.69 L676.27,354.70 L676.95,354.70 L677.63,354.71 L678.31,354.72 L678.99,354.72 L679.67,354.73 L680.35,354.74 L681.03,354.74 L681.71,354.75 L682.39,354.75 L683.07,354.75 L683.75,354.76 L684.43,354.76 L685.11,354.76 L685.79,354.77 L686.46,354.77 L687.14,354.77 L687.82,354.77 L688.50,354.78 L689.17,354.78 L689.85,354.78 L690.52,354.78 L691.20,354.79 L691.88,354.79 L692.55,354.79 L693.22,354.79 L693.90,354.80 L694.57,354.80 L695.24,354.80 L695.92,354.81 L696.59,354.81 L697.26,354.81 L697.93,354.82 L698.60,354.82 L699.27,354.83 L699.94,354.83 L700.61,354.84 L701.28,354.85 L701.95,354.85 L702.62,354.86 L703.28,354.87 L703.95,354.88 L704.61,354.89 L705.28,354.90 L705.94,354.91 L706.61,354.92 L707.27,354.93 L707.93,354.94 L708.59,354.96" stroke="#3c3c3c" stroke-width="0.95" fill="none"/>
<line x1="527" y1="359.4" x2="710.9" y2="359.4" stroke="#333" stroke-width="1"/>
<path d="M554.60,339.60L556.60,339.60L556.60,343.30L560.30,343.30L560.30,345.30L556.60,345.30L556.60,349.00L554.60,349.00L554.60,345.30L550.90,345.30L550.90,343.30L554.60,343.30Z" fill="#c81212" stroke="#8a0808" stroke-width="0.5"/>
<path d="M577.00,324.70L579.00,324.70L579.00,328.40L582.70,328.40L582.70,330.40L579.00,330.40L579.00,334.10L577.00,334.10L577.00,330.40L573.30,330.40L573.30,328.40L577.00,328.40Z" fill="#c81212" stroke="#8a0808" stroke-width="0.5"/>
<path d="M581.40,328.40L583.40,328.40L583.40,332.10L587.10,332.10L587.10,334.10L583.40,334.10L583.40,337.80L581.40,337.80L581.40,334.10L577.70,334.10L577.70,332.10L581.40,332.10Z" fill="#c81212" stroke="#8a0808" stroke-width="0.5"/>
<path d="M583.90,340.70L585.90,340.70L585.90,344.40L589.60,344.40L589.60,346.40L585.90,346.40L585.90,350.10L583.90,350.10L583.90,346.40L580.20,346.40L580.20,344.40L583.90,344.40Z" fill="#c81212" stroke="#8a0808" stroke-width="0.5"/>
<path d="M565.60,348.70L567.60,348.70L567.60,352.40L571.30,352.40L571.30,354.40L567.60,354.40L567.60,358.10L565.60,358.10L565.60,354.40L561.90,354.40L561.90,352.40L565.60,352.40Z" fill="#c81212" stroke="#8a0808" stroke-width="0.5"/>
<path d="M573.7,271.9L578.6,276.8L573.7,281.7L568.8,276.8Z" fill="#d00000" stroke="#5a0000" stroke-width="0.9"/>
<path d="M570.8,275.1L575.7,280.0L570.8,284.9L565.9,280.0Z" fill="#d00000" stroke="#5a0000" stroke-width="0.9"/>
<path d="M578.2,285.2L583.1,290.1L578.2,295.0L573.3,290.1Z" fill="#d00000" stroke="#5a0000" stroke-width="0.9"/>
<path d="M576.0,299.2L580.9,304.1L576.0,309.0L571.1,304.1Z" fill="#d00000" stroke="#5a0000" stroke-width="0.9"/>
<path d="M553.9,322.3L558.8,327.2L553.9,332.1L549.0,327.2Z" fill="#d00000" stroke="#5a0000" stroke-width="0.9"/>
<path d="M575.8,334.3L580.7,339.2L575.8,344.1L570.9,339.2Z" fill="#d00000" stroke="#5a0000" stroke-width="0.9"/>
<path d="M540.7,344.8L545.6,349.7L540.7,354.6L535.8,349.7Z" fill="#d00000" stroke="#5a0000" stroke-width="0.9"/>
<path d="M582.4,345.5L587.3,350.4L582.4,355.3L577.5,350.4Z" fill="#d00000" stroke="#5a0000" stroke-width="0.9"/>
<path d="M573.0,343.4L577.9,348.3L573.0,353.2L568.1,348.3Z" fill="#d00000" stroke="#5a0000" stroke-width="0.9"/>
<path d="M575.0,360.6L579.9,365.5L575.0,370.4L570.1,365.5Z" fill="#d00000" stroke="#5a0000" stroke-width="0.9"/>
<circle cx="575.7" cy="319.7" r="4.6" fill="#0000ee" stroke="#6a6aff" stroke-width="0.7"/>
<circle cx="533.6" cy="330.8" r="4.6" fill="#0000ee" stroke="#6a6aff" stroke-width="0.7"/>
<circle cx="525.0" cy="359.1" r="4.6" fill="#0000ee" stroke="#6a6aff" stroke-width="0.7"/>
<circle cx="540.8" cy="365.8" r="4.6" fill="#0000ee" stroke="#6a6aff" stroke-width="0.7"/>
<circle cx="576.0" cy="353.0" r="4.6" fill="#0000ee" stroke="#6a6aff" stroke-width="0.7"/>
<circle cx="564.8" cy="363.4" r="4.6" fill="#0000ee" stroke="#6a6aff" stroke-width="0.7"/>
<circle cx="579.8" cy="362.0" r="4.6" fill="#0000ee" stroke="#6a6aff" stroke-width="0.7"/>
<circle cx="571.5" cy="362.0" r="4.6" fill="#0000ee" stroke="#6a6aff" stroke-width="0.7"/>
<rect x="529.6" y="360.2" width="7.4" height="7.4" fill="#fff" stroke="#0000dd" stroke-width="1.8"/>
<rect x="571.4" y="360.0" width="7.4" height="7.4" fill="#fff" stroke="#0000dd" stroke-width="1.8"/>
<path d="M648.8,63.0L651.9,66.1L648.8,69.2L645.7,66.1Z" fill="#b00000" stroke="#600000" stroke-width="0.7"/>
<circle cx="648.9" cy="79.3" r="2.9" fill="#0000ee" stroke="#0000ee" stroke-width="0.3"/>
<path d="M645.3,96.0H652.3M648.8,92.5V99.5" stroke="#d01010" stroke-width="1.4" fill="none"/>
<rect x="645.5" y="107.5" width="6.5" height="6.5" fill="#fff" stroke="#1010b0" stroke-width="1.5"/>
<text x="658.5" y="69.3" font-size="8.5" font-weight="normal" font-style="normal" text-anchor="start" fill="#383838" stroke="#383838" stroke-width="0" >Black Shale</text>
<text x="658.5" y="83.6" font-size="8.5" font-weight="normal" font-style="normal" text-anchor="start" fill="#383838" stroke="#383838" stroke-width="0" >Grey Shale</text>
<text x="658.5" y="98.9" font-size="8.5" font-weight="normal" font-style="normal" text-anchor="start" fill="#383838" stroke="#383838" stroke-width="0" >Black Shale (after extr.)</text>
<text x="658.5" y="113.6" font-size="8.5" font-weight="normal" font-style="normal" text-anchor="start" fill="#383838" stroke="#383838" stroke-width="0" >Grey Shale (after extr.)</text>
</svg></body></html>
